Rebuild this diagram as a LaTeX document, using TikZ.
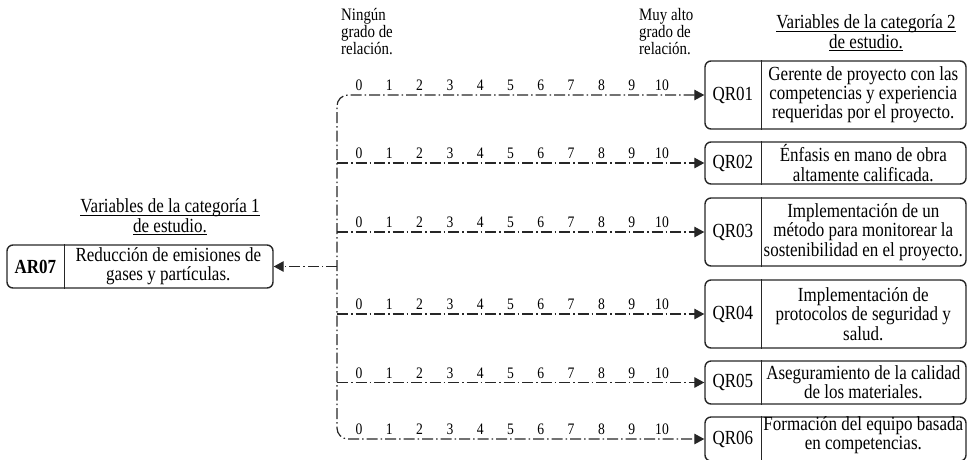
\documentclass[tikz,border=0pt]{standalone}
\usepackage{fontspec}
\setmainfont{Liberation Serif}[FakeStretch=0.85]
\usetikzlibrary{arrows.meta,calc}
\newsavebox\ulbox
\newcommand\myul[1]{\sbox\ulbox{#1}\rlap{\rule[-3pt]{\wd\ulbox}{0.9pt}}\usebox\ulbox}
\tikzset{
  flow/.style={draw=black!85, line width=1.2pt, dash pattern=on 11pt off 3pt on 1.5pt off 3pt},
  tipr/.style={-{Triangle[length=10pt,width=10.5pt]}},
  box/.style={draw=black!85, line width=1.4pt, rounded corners=6pt, inner sep=0pt},
  divider/.style={draw=black!85, line width=1.1pt},
  txt/.style={align=center, font=\fontsize{20}{19.2}\selectfont, inner sep=0pt},
  hdr/.style={align=left, font=\fontsize{17.5}{16.8}\selectfont, inner sep=0pt},
  num/.style={font=\fontsize{16}{16}\selectfont, inner sep=0pt}
}
\begin{document}
\begin{tikzpicture}[x=1pt,y=-1pt]
\useasboundingbox (0,0) rectangle (968,459);

% headers
\node[hdr, anchor=north west] (h0) at (341,8.5) {Ningún\\grado de\\relación.};
\node[hdr, anchor=north west] (h10) at (639,8.5) {Muy alto\\grado de\\relación.};

% titles
\node[txt] (t2) at (866,33) {\myul{Variables de la categoría 2}\\\myul{de estudio.}};
\node[txt] (t1) at (170,217) {\myul{Variables de la categoría 1}\\\myul{de estudio.}};

% left box
\node[box, minimum width=266pt, minimum height=43pt] (ar) at (140,266.5) {};
\draw[divider] ([xshift=58pt]ar.north west) -- ([xshift=58pt]ar.south west);
\node[txt, font=\fontsize{20}{19.2}\selectfont\bfseries] (arl) at ([xshift=29pt]ar.west) {AR07};
\node[txt] (art) at ([xshift=162pt]ar.west) {Reducción de emisiones de\\gases y partículas.};

% right boxes
\node[box, minimum width=261pt, minimum height=68pt] (q1) at (835.5,95) {};
\node[box, minimum width=261pt, minimum height=42pt] (q2) at (835.5,163) {};
\node[box, minimum width=261pt, minimum height=68pt] (q3) at (835.5,232) {};
\node[box, minimum width=261pt, minimum height=68pt] (q4) at (835.5,314) {};
\node[box, minimum width=261pt, minimum height=43pt] (q5) at (835.5,382.5) {};
\node[box, minimum width=261pt, minimum height=44pt] (q6) at (835.5,439) {};
\foreach \q in {q1,q2,q3,q4,q5,q6}{
  \draw[divider] ([xshift=57pt]\q.north west) -- ([xshift=57pt]\q.south west);
}
\node[txt] (q1l) at ([xshift=28.5pt]q1.west) {QR01};
\node[txt] (q2l) at ([xshift=28.5pt]q2.west) {QR02};
\node[txt] (q3l) at ([xshift=28.5pt]q3.west) {QR03};
\node[txt] (q4l) at ([xshift=28.5pt]q4.west) {QR04};
\node[txt] (q5l) at ([xshift=28.5pt]q5.west) {QR05};
\node[txt] (q6l) at ([xshift=28.5pt]q6.west) {QR06};
\node[txt] (q1t) at ([xshift=159pt]q1.west) {Gerente de proyecto con las\\competencias y experiencia\\requeridas por el proyecto.};
\node[txt] (q2t) at ([xshift=159pt]q2.west) {Énfasis en mano de obra\\altamente calificada.};
\node[txt] (q3t) at ([xshift=159pt]q3.west) {Implementación de un\\método para monitorear la\\sostenibilidad en el proyecto.};
\node[txt] (q4t) at ([xshift=159pt]q4.west) {Implementación de\\protocolos de seguridad y\\salud.};
\node[txt] (q5t) at ([xshift=159pt]q5.west) {Aseguramiento de la calidad\\de los materiales.};
\node[txt] (q6t) at ([xshift=159pt,yshift=4pt]q6.west) {Formación del equipo basada\\en competencias.};

% trunk
\coordinate (tb) at (337,0);
\draw[flow, rounded corners=11pt, {Triangle[length=10pt,width=10.5pt]}-{Triangle[length=10pt,width=10.5pt]}]
  (q1.west) -| (tb |- q6.west) -- (q6.west);
\foreach \q in {q2,q3,q4,q5}{
  \draw[flow, tipr] (tb |- \q.west) -- (\q.west);
}
\draw[flow, tipr] (tb |- ar.east) -- (ar.east);

% scale numbers
\foreach \r/\y in {1/95,2/163,3/232,4/314,5/382.5,6/439}{
  \foreach \i in {0,...,10}{
    \node[num, anchor=base] (n\r-\i) at ({359+30.3*\i},{\y-4.5}) {\i};
  }
}
\end{tikzpicture}
\end{document}
